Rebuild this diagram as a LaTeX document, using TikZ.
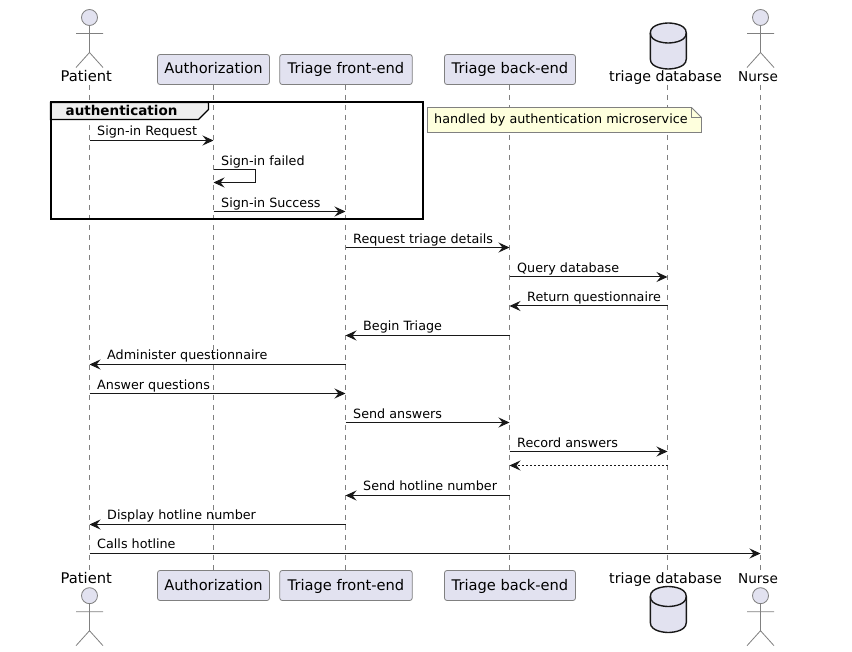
\documentclass[tikz,border=0pt]{standalone}
\usepackage{fontspec}
\setmainfont{DejaVu Sans}
\usetikzlibrary{arrows.meta}
\definecolor{pfill}{HTML}{E2E2F0}
\definecolor{pline}{HTML}{808080}
\definecolor{ink}{HTML}{181818}
\definecolor{notefill}{HTML}{FEFFDD}
\definecolor{tabfill}{HTML}{EEEEEE}
\tikzset{
  partbox/.style={draw=pline,fill=pfill,rounded corners=2.5pt,line width=0.8pt,minimum height=30pt,inner sep=0pt,text height=11.5pt,text depth=2.5pt,font=\fontsize{14.65}{16}\selectfont,text=black},
  partlabel/.style={anchor=base,inner sep=0pt,font=\fontsize{#1}{16}\selectfont,text=black},
  lifeline/.style={draw=pline,line width=0.8pt,dash pattern=on 5pt off 5pt},
  msgline/.style={draw=ink,line width=1pt,-{Stealth[length=11pt,width=10pt,inset=4pt,fill=ink]}},
  retline/.style={msgline,dash pattern=on 2pt off 2pt},
  msgtext/.style={anchor=base west,inner sep=0pt,font=\fontsize{12.75}{15}\selectfont,text=black},
  actorline/.style={draw=pline,line width=0.8pt},
  dbshape/.style={draw=ink,line width=1.4pt,fill=pfill},
}
\newcommand{\actorfig}[2]{% x, head centre y
  \draw[actorline,fill=pfill] (#1,#2) circle (8pt);
  \draw[actorline] (#1,#2+8) -- (#1,#2+35) (#1-13.5,#2+16) -- (#1+13.5,#2+16)
    (#1-13.5,#2+50) -- (#1,#2+35) -- (#1+13.5,#2+50);
}
\newcommand{\dbfig}[2]{% centre x, top y
  \draw[dbshape] (#1-18,#2+10) .. controls (#1-18,#2) and (#1,#2) .. (#1,#2)
    .. controls (#1,#2) and (#1+18,#2) .. (#1+18,#2+10) -- (#1+18,#2+36)
    .. controls (#1+18,#2+46) and (#1,#2+46) .. (#1,#2+46)
    .. controls (#1,#2+46) and (#1-18,#2+46) .. (#1-18,#2+36) -- cycle;
  \draw[draw=ink,line width=1.4pt] (#1-18,#2+10) .. controls (#1-18,#2+20) and (#1,#2+20) .. (#1,#2+20)
    .. controls (#1,#2+20) and (#1+18,#2+20) .. (#1+18,#2+10);
}
\begin{document}
\begin{tikzpicture}[x=1pt,y=-1pt]
\useasboundingbox[fill=white] (0,0) rectangle (852,652);
% lifeline anchors
\coordinate (lP) at (89.5,85);    \coordinate (lPb) at (89.5,571);
\coordinate (lA) at (213.5,85);   \coordinate (lAb) at (213.5,571);
\coordinate (lF) at (345.5,85);   \coordinate (lFb) at (345.5,571);
\coordinate (lB) at (509.5,85);   \coordinate (lBb) at (509.5,571);
\coordinate (lD) at (667.5,85);   \coordinate (lDb) at (667.5,571);
\coordinate (lN) at (760.5,85);   \coordinate (lNb) at (760.5,571);
\foreach \a/\b in {lP/lPb,lA/lAb,lF/lFb,lB/lBb,lD/lDb,lN/lNb}
  \draw[lifeline] (\a) -- (\b);
% top participants
\actorfig{89.5}{17.5}
\node[partlabel=14.7] (patientTop) at (86.3,82) {Patient};
\node[partbox,minimum width=112pt] (authTop) at (213.5,69.5) {Authorization};
\node[partbox,minimum width=132.5pt] (frontTop) at (346,69.5) {Triage front-end};
\node[partbox,minimum width=131pt] (backTop) at (510,69.5) {Triage back-end};
\dbfig{668.3}{23}
\node[partlabel=14.25] (dbTop) at (665.5,82) {triage database};
\actorfig{760.5}{17.5}
\node[partlabel=13.6] (nurseTop) at (758,82) {Nurse};
% bottom participants
\node[partlabel=14.7] (patientBot) at (86.3,583) {Patient};
\actorfig{89.5}{595.7}
\node[partbox,minimum width=112pt] (authBot) at (213.5,585.5) {Authorization};
\node[partbox,minimum width=132.5pt] (frontBot) at (346,585.5) {Triage front-end};
\node[partbox,minimum width=131pt] (backBot) at (510,585.5) {Triage back-end};
\node[partlabel=14.25] (dbBot) at (665.5,583) {triage database};
\dbfig{668.3}{586.5}
\node[partlabel=13.6] (nurseBot) at (758,583) {Nurse};
\actorfig{760.5}{595.7}
% group frame
\draw[draw=black,line width=2pt] (50.5,102.5) rectangle (422.5,219);
\draw[draw=black,line width=1.4pt,fill=tabfill] (50.5,102.5) -- (208.5,102.5) -- (208.5,109.5) -- (198.5,119.5) -- (50.5,119.5) -- cycle;
\draw[draw=black,line width=2pt] (50.5,119.5) -- (50.5,102.5) -- (208.5,102.5);
\node[anchor=base west,inner sep=0pt,font=\fontsize{13.5}{15}\selectfont\bfseries] (groupLabel) at (65.5,115.3) {authentication};
% note
\draw[draw=pline,line width=0.8pt,fill=notefill] (427.5,107.5) -- (691.5,107.5) -- (701.5,117.5) -- (701.5,132.5) -- (427.5,132.5) -- cycle;
\draw[draw=pline,line width=0.8pt] (691.5,107.5) -- (691.5,117.5) -- (701.5,117.5);
\node[msgtext] (noteText) at (434,124) {handled by authentication microservice};
% messages
\draw[msgline] (lP |- 0,140.5) -- (lA |- 0,140.5);
\node[msgtext] at (97,136) {Sign-in Request};
\draw[msgline] (lA |- 0,169.5) -| (255.5,182.5) -- (lA |- 0,182.5);
\node[msgtext] at (221,165.5) {Sign-in failed};
\draw[msgline] (lA |- 0,211.5) -- (lF |- 0,211.5);
\node[msgtext] at (221,207.5) {Sign-in Success};
\draw[msgline] (lF |- 0,247.5) -- (lB |- 0,247.5);
\node[msgtext] at (353,243.5) {Request triage details};
\draw[msgline] (lB |- 0,277) -- (lD |- 0,277);
\node[msgtext] at (517,272.5) {Query database};
\draw[msgline] (lD |- 0,306) -- (lB |- 0,306);
\node[msgtext] at (527,301.5) {Return questionnaire};
\draw[msgline] (lB |- 0,335.5) -- (lF |- 0,335.5);
\node[msgtext] at (363,330.5) {Begin Triage};
\draw[msgline] (lF |- 0,364.5) -- (lP |- 0,364.5);
\node[msgtext] at (107,359.5) {Administer questionnaire};
\draw[msgline] (lP |- 0,393.5) -- (lF |- 0,393.5);
\node[msgtext] at (97,389.5) {Answer questions};
\draw[msgline] (lF |- 0,422.5) -- (lB |- 0,422.5);
\node[msgtext] at (353,418) {Send answers};
\draw[msgline] (lB |- 0,451.5) -- (lD |- 0,451.5);
\node[msgtext] at (517,447) {Record answers};
\draw[retline] (lD |- 0,465.5) -- (lB |- 0,465.5);
\draw[msgline] (lB |- 0,495.5) -- (lF |- 0,495.5);
\node[msgtext] at (363,490.5) {Send hotline number};
\draw[msgline] (lF |- 0,524.5) -- (lP |- 0,524.5);
\node[msgtext] at (107,519.5) {Display hotline number};
\draw[msgline] (lP |- 0,553.5) -- (lN |- 0,553.5);
\node[msgtext] at (97,548.5) {Calls hotline};
\end{tikzpicture}
\end{document}
